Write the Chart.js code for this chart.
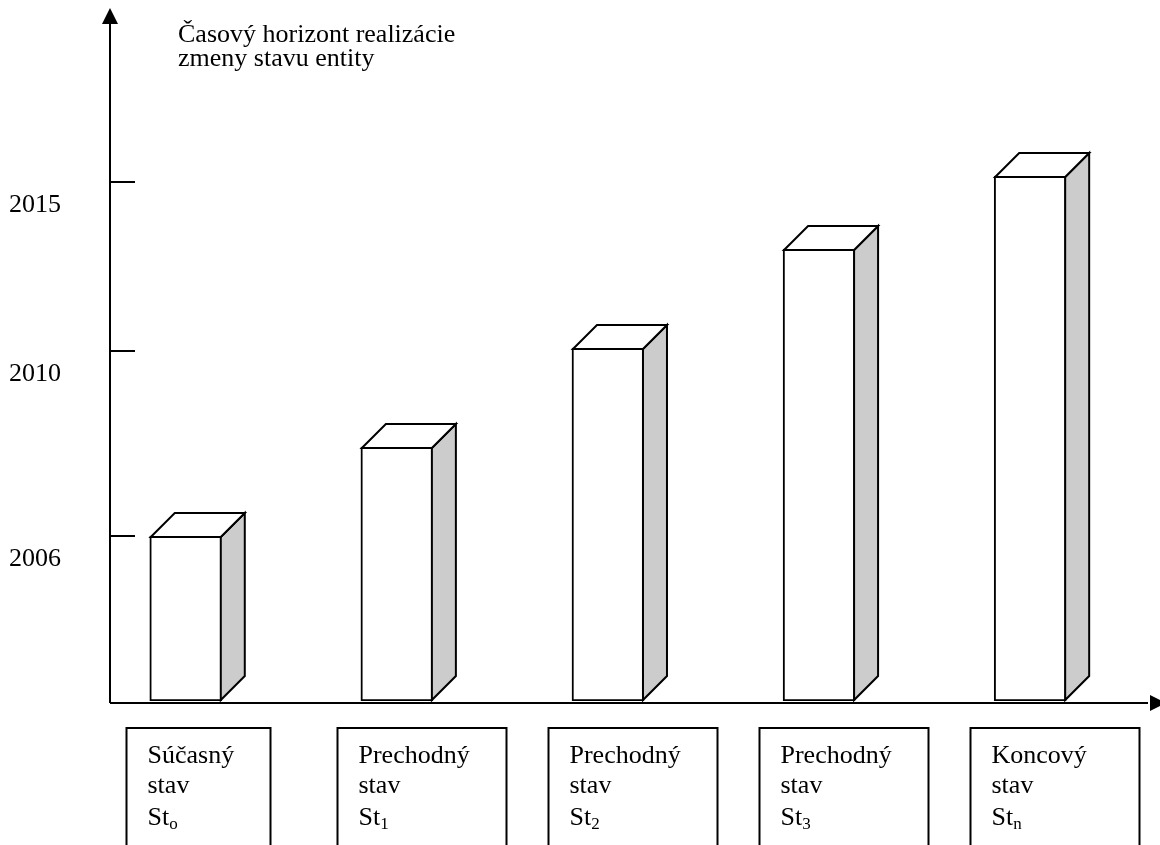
<!DOCTYPE html>
<html>
<head>
<meta charset="utf-8">
<script src="https://cdn.jsdelivr.net/npm/chart.js@4/dist/chart.umd.min.js"></script>
<style>
  html, body { margin: 0; padding: 0; background: #fff; }
  #wrap { width: 1160px; height: 845px; }
</style>
</head>
<body>
<div id="wrap"><canvas id="horizonChart" width="1160" height="845"></canvas></div>
<script>
// údaje
const stages = ['Súčasný', 'Prechodný', 'Prechodný', 'Prechodný', 'Koncový'];
const stageWord = 'stav';
const stageCodes = ['o', '1', '2', '3', 'n'];
const horizon = [1.65, 2.54, 3.53, 4.52, 5.25];
const yearTicks = [1.65, 3.50, 5.19];
const yearLabels = ['2006', '2010', '2015'];
const axisTitle = ['Časový horizont realizácie', 'zmeny stavu entity'];

const FONT = '"Liberation Serif", "Times New Roman", serif';
const DEPTH = 24;

// 3D kvádre, osi, popisy
const schemePlugin = {
  id: 'scheme',
  afterDatasetsDraw(chart) {
    const ctx = chart.ctx;
    const xs = chart.scales.x, ys = chart.scales.y;
    const area = chart.chartArea;
    const meta = chart.getDatasetMeta(0);

    ctx.save();
    ctx.lineWidth = 2;
    ctx.strokeStyle = '#000';
    ctx.lineJoin = 'miter';

    // bočná a horná stena
    meta.data.forEach(bar => {
      const p = bar.getProps(['x', 'y', 'base', 'width'], true);
      const l = p.x - p.width / 2 + 1, r = p.x + p.width / 2 - 1;
      const t = p.y + 1, b = p.base - 1;
      ctx.beginPath();
      ctx.moveTo(r, t);
      ctx.lineTo(r + DEPTH, t - DEPTH);
      ctx.lineTo(r + DEPTH, b - DEPTH);
      ctx.lineTo(r, b);
      ctx.closePath();
      ctx.fillStyle = '#cccccc';
      ctx.fill();
      ctx.stroke();
      ctx.beginPath();
      ctx.moveTo(l, t);
      ctx.lineTo(l + DEPTH, t - DEPTH);
      ctx.lineTo(r + DEPTH, t - DEPTH);
      ctx.lineTo(r, t);
      ctx.closePath();
      ctx.fillStyle = '#fff';
      ctx.fill();
      ctx.stroke();
    });

    // osi so šípkami
    const ax = area.left;
    const ay = area.bottom + 2;
    ctx.beginPath();
    ctx.moveTo(ax, ay);
    ctx.lineTo(ax, area.top + 14);
    ctx.moveTo(ax, ay);
    ctx.lineTo(area.right - 12, ay);
    ctx.stroke();
    ctx.fillStyle = '#000';
    ctx.beginPath();
    ctx.moveTo(ax, area.top);
    ctx.lineTo(ax - 8, area.top + 16);
    ctx.lineTo(ax + 8, area.top + 16);
    ctx.closePath();
    ctx.fill();
    ctx.beginPath();
    ctx.moveTo(area.right + 6, ay);
    ctx.lineTo(area.right - 10, ay - 8);
    ctx.lineTo(area.right - 10, ay + 8);
    ctx.closePath();
    ctx.fill();

    // značky rokov
    ctx.font = '26px ' + FONT;
    ctx.textAlign = 'left';
    ctx.textBaseline = 'alphabetic';
    yearTicks.forEach((v, i) => {
      const py = Math.round(ys.getPixelForValue(v));
      ctx.beginPath();
      ctx.moveTo(ax, py);
      ctx.lineTo(ax + 25, py);
      ctx.stroke();
      ctx.fillText(yearLabels[i], 9, py + 30);
    });

    // názov osi
    ctx.fillText(axisTitle[0], 178, 42);
    ctx.fillText(axisTitle[1], 178, 66);

    // rámčeky so stavmi
    stages.forEach((name, i) => {
      const cx = xs.getPixelForValue(i);
      const left = Math.round(cx - 60) + 0.5;
      const top = ay + 25;
      const boxW = i === 0 ? 144 : 169;
      ctx.lineWidth = 2;
      ctx.strokeRect(left, top, boxW, 200);
      const tx = left + 21;
      ctx.font = '26px ' + FONT;
      ctx.fillText(name, tx, top + 35);
      ctx.fillText(stageWord, tx, top + 65);
      ctx.fillText('St', tx, top + 97);
      const w = ctx.measureText('St').width;
      ctx.font = '17px ' + FONT;
      ctx.fillText(stageCodes[i], tx + w, top + 101);
    });
    ctx.restore();
  }
};

const ctx = document.getElementById('horizonChart').getContext('2d');
const horizonChart = new Chart(ctx, {
  type: 'bar',
  data: {
    labels: stages,
    datasets: [{
      label: 'Časový horizont',
      data: horizon.map((v, i) => ({ x: i, y: v })),
      backgroundColor: '#fff',
      borderColor: '#000',
      borderWidth: 2,
      borderSkipped: false,
      barThickness: 72
    }]
  },
  options: {
    responsive: false,
    animation: false,
    layout: { padding: { left: 110, right: 0, top: 8, bottom: 144 } },
    plugins: {
      legend: { display: false },
      tooltip: { enabled: false }
    },
    scales: {
      x: { type: 'linear', offset: false, min: -0.359, max: 4.615, display: false },
      y: { min: 0, max: 6.93, display: false }
    }
  },
  plugins: [schemePlugin]
});
</script>
</body>
</html>
